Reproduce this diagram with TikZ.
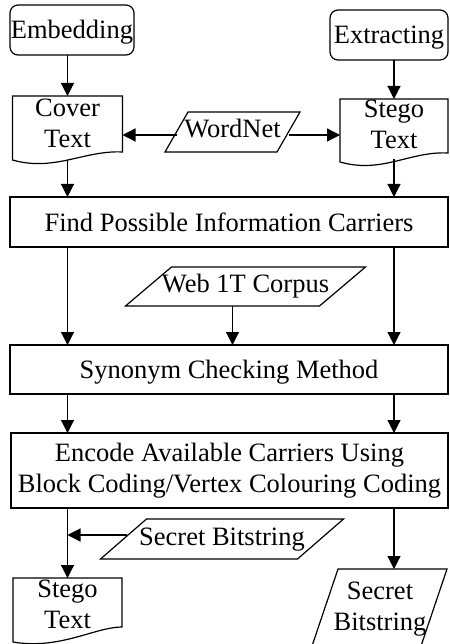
\documentclass[tikz,border=0pt]{standalone}
\usepackage{fontspec}
\setmainfont{Liberation Serif}
\usetikzlibrary{arrows.meta}
\begin{document}
\begin{tikzpicture}[x=1pt,y=-1pt,
  every node/.style={font=\fontsize{26.5}{31}\selectfont, inner sep=0pt, outer sep=0pt},
  flowbox/.style={draw, line width=1.2pt, align=center},
  flowboxone/.style={flowbox, text height=18pt, text depth=0pt},
  rbox/.style={flowboxone, rounded corners=8pt},
  hold/.style={draw=none},
  paranode/.style={draw=none, text height=18pt, text depth=6pt},
  docline/.style={draw, line width=1.2pt, line join=miter},
  lbl/.style={align=center},
  arr/.style={line width=1.2pt, -{Triangle[length=13pt,width=13pt]}}]
\useasboundingbox (0,0) rectangle (449,644);
\fill[white] (0,0) rectangle (449,644);
\begin{scope}
\clip (0,0) rectangle (449,644);

% start / end boxes
\node[rbox, minimum width=124pt, minimum height=50pt] (emb) at (72,30) {Embedding};
\node[rbox, minimum width=118pt, minimum height=50pt] (ext) at (389,35) {Extracting};

% cover text document
\node[hold, minimum width=110pt, minimum height=64pt] (cover) at (67.5,128) {};
\node[lbl] (coverlbl) at (67.5,123.5) {Cover\\Text};
\draw[docline] (cover.north west) -- (cover.north east) -- ([yshift=8pt]cover.south east)
  .. controls +(-38,-2) and +(42,12) .. (cover.south west) -- cycle;

% stego text document (top)
\node[hold, minimum width=108pt, minimum height=63pt] (stegoT) at (394,130.5) {};
\node[lbl] (stegoTlbl) at (394,124.5) {Stego\\Text};
\draw[docline] (stegoT.north west) -- (stegoT.north east) -- ([yshift=9pt]stegoT.south east)
  .. controls +(-38,-2) and +(42,12) .. (stegoT.south west) -- cycle;

% WordNet
\node[paranode, minimum width=112pt, minimum height=40pt] (wn) at (232.5,132) {WordNet};
\draw[docline] ([xshift=11.5pt]wn.north west) -- ([xshift=11.5pt]wn.north east)
  -- ([xshift=-11.5pt]wn.south east) -- ([xshift=-11.5pt]wn.south west) -- cycle;

% process boxes
\node[flowboxone, minimum width=438pt, minimum height=50pt] (find) at (229,222) {Find Possible Information Carriers};

\node[paranode, minimum width=194pt, minimum height=39pt] (web) at (245.5,286.5) {Web 1T Corpus};
\draw[docline] ([xshift=23pt]web.north west) -- ([xshift=23pt]web.north east)
  -- ([xshift=-23pt]web.south east) -- ([xshift=-23pt]web.south west) -- cycle;

\node[flowboxone, minimum width=438pt, minimum height=49pt] (syn) at (229,369.5) {Synonym Checking Method};

\node[flowbox, minimum width=437pt, minimum height=75pt] (enc) at (229.5,470.5) {Encode Available Carriers Using\\Block Coding/Vertex Colouring Coding};

\node[paranode, minimum width=197pt, minimum height=40pt] (sec) at (222,539) {Secret Bitstring};
\draw[docline] ([xshift=23pt]sec.north west) -- ([xshift=23pt]sec.north east)
  -- ([xshift=-23pt]sec.south east) -- ([xshift=-23pt]sec.south west) -- cycle;

% stego text document (bottom)
\node[hold, minimum width=109pt, minimum height=64pt] (stegoB) at (67.5,610) {};
\node[lbl] (stegoBlbl) at (67.5,604.5) {Stego\\Text};
\draw[docline] (stegoB.north west) -- (stegoB.north east) -- ([yshift=15pt]stegoB.south east)
  .. controls +(-27,0) and +(47,8) .. (stegoB.south west) -- cycle;

% secret bitstring output
\node[hold, minimum width=109pt, minimum height=80pt] (secB) at (379,609) {};
\node[lbl] (secBlbl) at (380,609.4) {Secret\\Bitstring};
\draw[docline] ([xshift=13.5pt]secB.north west) -- ([xshift=13.5pt]secB.north east)
  -- ([xshift=-13.5pt]secB.south east) -- ([xshift=-13.5pt]secB.south west) -- cycle;

% connectors
\coordinate (wnl) at ([yshift=-3pt]wn.west);
\coordinate (wnr) at ([yshift=-3pt]wn.east);
\coordinate (secl) at ([xshift=3pt,yshift=4pt]sec.west);
\coordinate (webb) at ([xshift=-13pt]web.south);

\draw[arr] (emb.south -| cover.north) -- (cover.north);
\draw[arr] (ext.south -| stegoT.north) -- (stegoT.north);
\draw[arr] (wnl) -- (wnl -| cover.east);
\draw[arr] (wnr) -- (wnr -| stegoT.west);
\draw[arr] (cover.south) -- (cover.south |- find.north);
\draw[arr] ([yshift=3pt]stegoT.south) -- (stegoT.south |- find.north);
\draw[arr] (find.south -| cover.south) -- (syn.north -| cover.south);
\draw[arr] (find.south -| stegoT.south) -- (syn.north -| stegoT.south);
\draw[arr] (webb) -- (webb |- syn.north);
\draw[arr] (syn.south -| cover.south) -- (enc.north -| cover.south);
\draw[arr] (syn.south -| stegoT.south) -- (enc.north -| stegoT.south);
\draw[arr] (enc.south -| stegoB.north) -- (stegoB.north);
\draw[arr] (secl) -- (secl -| stegoB.north);
\draw[arr] (enc.south -| stegoT.south) -- (stegoT.south |- secB.north);
\end{scope}
\end{tikzpicture}
\end{document}
